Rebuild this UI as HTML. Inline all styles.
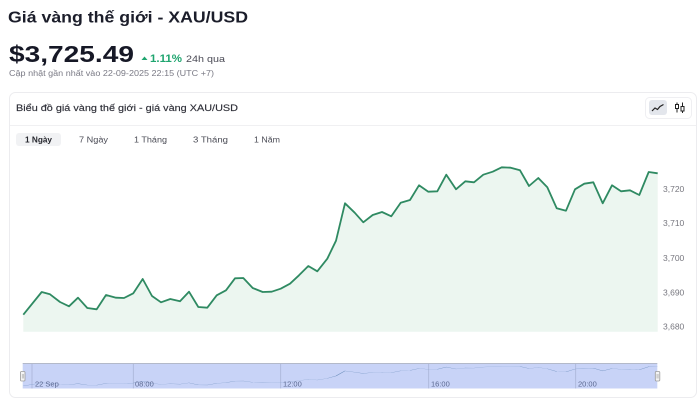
<!DOCTYPE html>
<html><head><meta charset="utf-8"><style>
html,body{margin:0;padding:0;background:#fff;}
svg{display:block;font-family:"Liberation Sans","DejaVu Sans",sans-serif;}
</style></head><body>
<svg width="700" height="400" viewBox="0 0 700 400" xmlns="http://www.w3.org/2000/svg">
<rect width="700" height="400" fill="#fff"/>
<text x="8" y="22.5" font-size="16" font-weight="bold" fill="#1b1d2a" textLength="240" lengthAdjust="spacingAndGlyphs">Giá vàng thế giới - XAU/USD</text>
<text x="9" y="62" font-size="23" font-weight="bold" fill="#161826" textLength="125" lengthAdjust="spacingAndGlyphs">$3,725.49</text>
<path d="M141.5,60 L144.5,56.5 L147.5,60 Z" fill="#1fa56f"/>
<text x="150" y="62" font-size="11" font-weight="bold" fill="#1fa56f" textLength="32" lengthAdjust="spacingAndGlyphs">1.11%</text>
<text x="186" y="62" font-size="9.5" fill="#4a4a55" textLength="39" lengthAdjust="spacingAndGlyphs">24h qua</text>
<text x="9" y="76" font-size="8" fill="#7a7a85" textLength="205" lengthAdjust="spacingAndGlyphs">Cập nhật gần nhất vào 22-09-2025 22:15 (UTC +7)</text>

<rect x="9.5" y="92.5" width="687" height="305" rx="6" fill="#fff" stroke="#ececef"/>
<text x="16" y="111" font-size="9.5" fill="#2e2f38" stroke="#2e2f38" stroke-width="0.15" textLength="222" lengthAdjust="spacingAndGlyphs">Biểu đồ giá vàng thế giới - giá vàng XAU/USD</text>
<line x1="10" y1="125.5" x2="696" y2="125.5" stroke="#f0f0f2"/>

<rect x="645.5" y="97.5" width="46" height="21" rx="4" fill="#fff" stroke="#efeff2"/>
<rect x="649" y="100" width="18" height="15" rx="3" fill="#e3e6ec"/>
<path d="M652,111 L655,108 L657.5,109.5 L660,106.5 L663.5,104.5" fill="none" stroke="#222" stroke-width="1.2"/>
<g stroke="#222" stroke-width="1" fill="none">
<line x1="677" y1="102.5" x2="677" y2="112.5"/>
<rect x="675.5" y="104.5" width="3" height="4" fill="#fff"/>
<line x1="682.5" y1="102.5" x2="682.5" y2="113"/>
<rect x="681" y="106.5" width="3" height="4.5" fill="#fff"/>
</g>

<rect x="16" y="133" width="45" height="13" rx="3" fill="#f1f2f4"/>
<text x="25" y="142.5" font-size="8" font-weight="bold" fill="#26272e" textLength="27" lengthAdjust="spacingAndGlyphs">1 Ngày</text>
<text x="79" y="142.5" font-size="8" fill="#4a4b55" textLength="29" lengthAdjust="spacingAndGlyphs">7 Ngày</text>
<text x="134" y="142.5" font-size="8" fill="#4a4b55" textLength="33" lengthAdjust="spacingAndGlyphs">1 Tháng</text>
<text x="193" y="142.5" font-size="8" fill="#4a4b55" textLength="35" lengthAdjust="spacingAndGlyphs">3 Tháng</text>
<text x="254" y="142.5" font-size="8" fill="#4a4b55" textLength="26" lengthAdjust="spacingAndGlyphs">1 Năm</text>

<defs>
<polyline id="series" points="23.3,314.7 41.7,292 50,294.3 60,302 69,306.3 78,297.7 87.3,308 96.7,309.3 106,295 116,297.7 124,298 133.3,293.3 142.7,279 152,296 161,302.3 170.3,299 180,301.3 189,291.7 198.3,307 207.3,307.7 216.7,295.3 226,290.3 235,278.3 243.3,278 252.7,288 262.7,292 271.7,291.7 280.7,288.7 290,283.7 299,275.3 308.3,266 317.3,271.3 327.3,258.7 336,240.7 345,203.3 354.7,212.7 363.3,222.3 372.7,215 382,212 391.3,216.3 400.7,202.7 410,200 419,185.3 428.3,191.7 437.3,191.3 446.3,174.7 456,189.3 465.3,181.3 474,182.3 483.3,174.7 492.7,171.7 501.7,167.3 510.7,167.7 520,170.3 529,186 538.3,178 547.3,187.3 556.7,208.3 566,210.7 575,189.3 584.3,183.7 593.3,182.3 602.7,203.3 612,185.3 621,191.3 630,190.3 639.3,195 648.7,172 657.7,173.3"/>
</defs>
<polygon fill="#ecf6f0" points="23.3,331.7 23.3,314.7 41.7,292 50,294.3 60,302 69,306.3 78,297.7 87.3,308 96.7,309.3 106,295 116,297.7 124,298 133.3,293.3 142.7,279 152,296 161,302.3 170.3,299 180,301.3 189,291.7 198.3,307 207.3,307.7 216.7,295.3 226,290.3 235,278.3 243.3,278 252.7,288 262.7,292 271.7,291.7 280.7,288.7 290,283.7 299,275.3 308.3,266 317.3,271.3 327.3,258.7 336,240.7 345,203.3 354.7,212.7 363.3,222.3 372.7,215 382,212 391.3,216.3 400.7,202.7 410,200 419,185.3 428.3,191.7 437.3,191.3 446.3,174.7 456,189.3 465.3,181.3 474,182.3 483.3,174.7 492.7,171.7 501.7,167.3 510.7,167.7 520,170.3 529,186 538.3,178 547.3,187.3 556.7,208.3 566,210.7 575,189.3 584.3,183.7 593.3,182.3 602.7,203.3 612,185.3 621,191.3 630,190.3 639.3,195 648.7,172 657.7,173.3 657.7,331.7"/>
<use href="#series" fill="none" stroke="#2f8a62" stroke-width="1.8" stroke-linejoin="round"/>

<g font-size="8.5" fill="#77777f">
<text x="663" y="192">3,720</text>
<text x="663" y="226">3,710</text>
<text x="663" y="261">3,700</text>
<text x="663" y="295.5">3,690</text>
<text x="663" y="329.5">3,680</text>
</g>

<rect x="22.7" y="363.5" width="634.6" height="25" fill="#c8d3f7"/>
<line x1="22.7" y1="363.5" x2="657.3" y2="363.5" stroke="#b3b9c9" stroke-width="1"/>
<g stroke="#a9b4d6" stroke-width="0.8">
<line x1="32" y1="364" x2="32" y2="388.5"/>
<line x1="133.3" y1="364" x2="133.3" y2="388.5"/>
<line x1="280.7" y1="364" x2="280.7" y2="388.5"/>
<line x1="428.7" y1="364" x2="428.7" y2="388.5"/>
<line x1="575.7" y1="364" x2="575.7" y2="388.5"/>
</g>
<g transform="translate(0,343.455) scale(1,0.135)">
<use href="#series" fill="none" stroke="#6d8fbd" stroke-width="1.1" vector-effect="non-scaling-stroke"/>
</g>
<g font-size="7.5" fill="#5b6890">
<text x="35" y="386.5">22 Sep</text>
<text x="135" y="386.5">08:00</text>
<text x="283" y="386.5">12:00</text>
<text x="431" y="386.5">16:00</text>
<text x="578" y="386.5">20:00</text>
</g>
<g fill="#f4f4f4" stroke="#9a9a9a" stroke-width="0.8">
<rect x="20.5" y="371.5" width="4.5" height="9.5" rx="1"/>
<rect x="655.3" y="371.5" width="4.5" height="9.5" rx="1"/>
</g>
<g stroke="#9a9a9a" stroke-width="0.5">
<line x1="22.2" y1="374" x2="22.2" y2="378.5"/><line x1="23.3" y1="374" x2="23.3" y2="378.5"/>
<line x1="657" y1="374" x2="657" y2="378.5"/><line x1="658.1" y1="374" x2="658.1" y2="378.5"/>
</g>
</svg>
</body></html>
